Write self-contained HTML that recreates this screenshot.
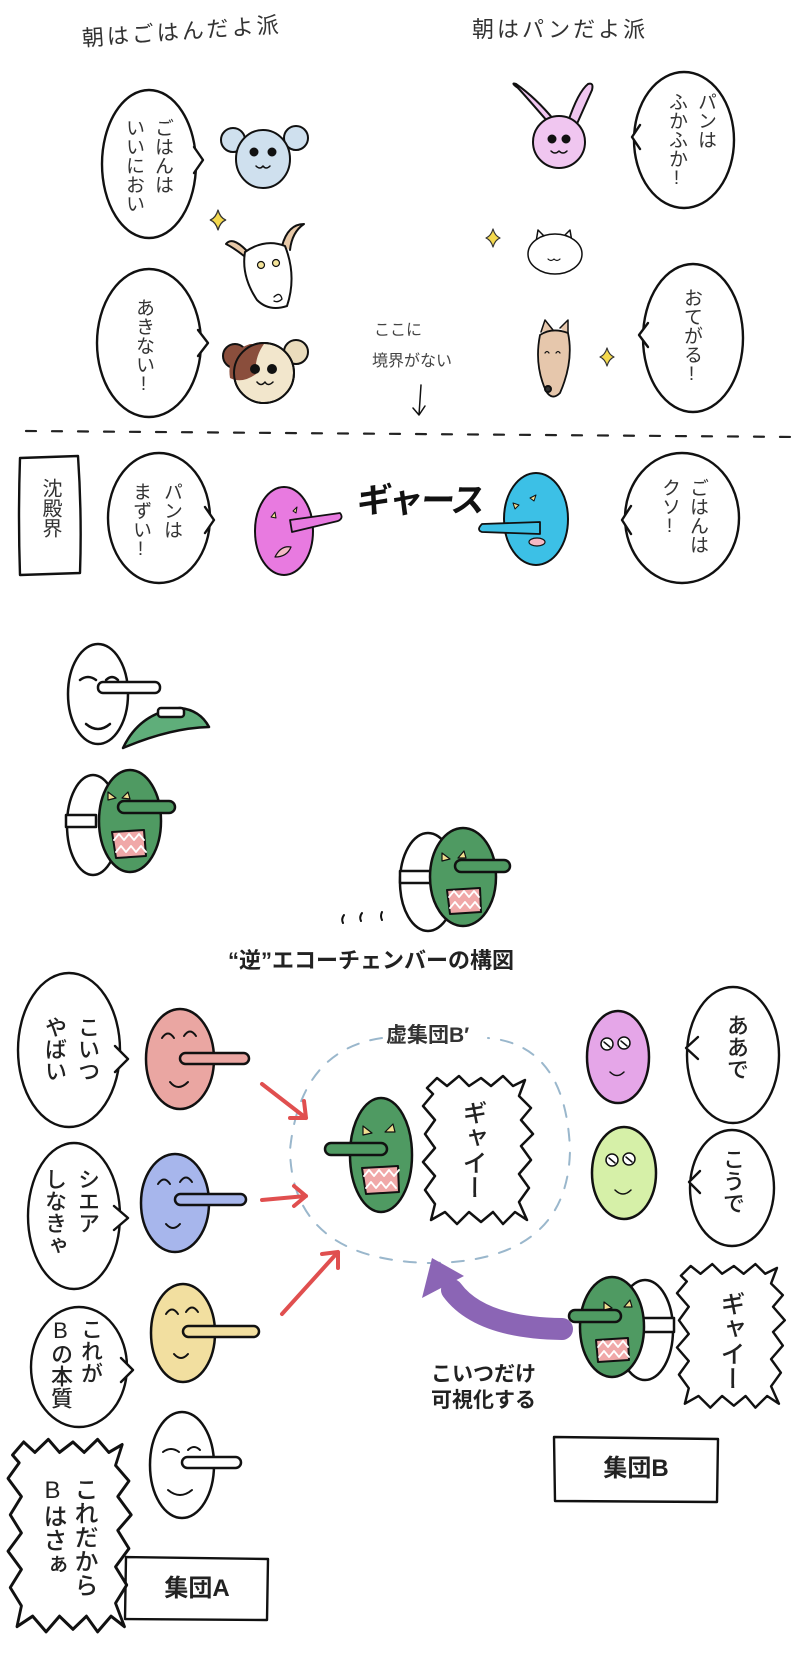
<!DOCTYPE html>
<html><head><meta charset="utf-8">
<style>
html,body{margin:0;padding:0;background:#fff;}
#w{position:relative;width:800px;height:1659px;overflow:hidden;background:#fff;font-family:"Liberation Sans","Noto Sans CJK JP",sans-serif;color:#222;}
svg{position:absolute;left:0;top:0;}
.v{position:absolute;writing-mode:vertical-rl;text-orientation:upright;line-height:1;white-space:nowrap;}
.t{position:absolute;white-space:nowrap;line-height:1;}
.s19{font-size:19px;width:19px;color:#333;}
.s22{font-size:22px;width:22px;color:#222;font-weight:500;}
.s24{font-size:24px;width:24px;color:#222;font-weight:500;}
.b{font-weight:bold;}
</style></head><body><div id="w">
<svg width="800" height="1659" viewBox="0 0 800 1659" stroke-linecap="round" stroke-linejoin="round">
<defs>
<polygon id="spk" points="4,10 14,0 24,8 36,-2 46,8 58,0 68,8 80,-2 90,8 102,2 96,18 108,30 98,42 110,56 98,68 108,82 96,96 106,110 96,124 104,142 92,134 80,146 70,134 58,144 46,134 34,146 22,134 8,142 12,126 2,112 12,98 0,84 12,70 2,56 12,42 0,28 10,16" fill="#fff" stroke="#111" stroke-width="2.5"/>
<symbol id="star" viewBox="-10 -10 20 20"><path d="M0,-9 Q2,-2 7,0 Q2,2 0,9 Q-2,2 -7,0 Q-2,-2 0,-9Z" fill="#f4d94e" stroke="#333" stroke-width="1.2"/></symbol>
</defs>
<g fill="#fff" stroke="#111" stroke-width="2.4">
<ellipse cx="149" cy="164" rx="47" ry="74"/><polygon points="192,146 203,160 192,174" stroke="none"/><polyline points="194,147 203,160 194,173" fill="none"/>
<ellipse cx="149" cy="343" rx="52" ry="74"/><polygon points="196,329 208,343 196,357" stroke="none"/><polyline points="198,330 208,343 198,356" fill="none"/>
<ellipse cx="684" cy="140" rx="50" ry="68"/><polygon points="642,124 632,137 642,150" stroke="none"/><polyline points="640,125 632,137 640,149" fill="none"/>
<ellipse cx="693" cy="338" rx="50" ry="74"/><polygon points="650,322 639,335 650,348" stroke="none"/><polyline points="648,323 639,335 648,347" fill="none"/>
<path d="M20,458 Q18,517 20,575 L80,573 Q82,515 78,456 Z"/>
<ellipse cx="159" cy="518" rx="51" ry="65"/><polygon points="203,506 214,520 203,534" stroke="none"/><polyline points="205,507 214,520 205,533" fill="none"/>
<ellipse cx="682" cy="518" rx="57" ry="65"/><polygon points="633,505 622,520 633,535" stroke="none"/><polyline points="631,506 622,520 631,534" fill="none"/>
<ellipse cx="69" cy="1050" rx="51" ry="77"/><polygon points="114,1045 128,1059 114,1073" stroke="none"/><polyline points="115,1046 128,1059 115,1072" fill="none"/>
<ellipse cx="74" cy="1216" rx="46" ry="73"/><polygon points="113,1205 128,1218 113,1231" stroke="none"/><polyline points="114,1206 128,1218 114,1230" fill="none"/>
<ellipse cx="79" cy="1367" rx="48" ry="60"/><polygon points="120,1357 133,1370 120,1383" stroke="none"/><polyline points="121,1358 133,1370 121,1382" fill="none"/>
<ellipse cx="733" cy="1055" rx="46" ry="68"/><polygon points="699,1036 686,1048 699,1060" stroke="none"/><polyline points="698,1037 686,1048 698,1059" fill="none"/>
<ellipse cx="732" cy="1188" rx="42" ry="58"/><polygon points="701,1170 689,1182 701,1194" stroke="none"/><polyline points="700,1171 689,1182 700,1193" fill="none"/>
<path d="M126,1557 L268,1559 L267,1620 L125,1619 Z"/>
<path d="M554,1437 L718,1439 L717,1502 L555,1501 Z"/>
</g>
<use href="#spk" transform="translate(423,1078)"/>
<use href="#spk" transform="translate(677,1266) scale(0.98,0.97)"/>
<use href="#spk" transform="translate(8,1442) scale(1.12,1.3)"/>
<use href="#star" x="207" y="209" width="22" height="22"/>
<use href="#star" x="483" y="228" width="20" height="20"/>
<use href="#star" x="597" y="347" width="20" height="20"/>
<path d="M26,431 L800,437" stroke="#222" stroke-width="2.2" stroke-dasharray="10 16" fill="none"/>
<g stroke="#111" stroke-width="2">
<circle cx="233" cy="140" r="12" fill="#cfe0ee"/><circle cx="296" cy="138" r="12" fill="#cfe0ee"/>
<ellipse cx="263" cy="159" rx="27" ry="29" fill="#cfe0ee"/>
<circle cx="254" cy="152" r="3.5" fill="#111"/><circle cx="272" cy="152" r="3.5" fill="#111"/>
<path d="M256 166 q4 4 7 0 q3 4 7 0" fill="none" stroke-width="1.5"/>
<path d="M246,250 q-14,-14 -20,-6 q8,4 18,12" fill="#e8c9a8"/><path d="M282,246 q6,-22 22,-22 q-12,8 -14,26" fill="#e8c9a8"/>
<path d="M245,252 q20,-14 40,-6 q12,30 2,60 q-18,6 -30,-6 q-16,-24 -12,-48Z" fill="#fff"/>
<circle cx="261" cy="265" r="3.5" fill="#f4e49a" stroke-width="1.2"/><circle cx="276" cy="263" r="3.5" fill="#f4e49a" stroke-width="1.2"/>
<path d="M274 297 q6 -6 8 2 q-4 4 -8 2" fill="none" stroke-width="1.3"/>
<circle cx="235" cy="356" r="12" fill="#8a4e3c"/><circle cx="296" cy="352" r="12" fill="#eadcbc"/>
<circle cx="264" cy="373" r="30" fill="#f2e6cc"/>
<path d="M264,344 q-10,14 -8,30 q-14,10 -26,4 q-4,-26 20,-34Z" fill="#8a4e3c" stroke="none"/>
<circle cx="264" cy="373" r="30" fill="none"/>
<circle cx="255" cy="369" r="4" fill="#111"/><circle cx="272" cy="369" r="4" fill="#111"/>
<path d="M257 382 q4 5 8 0 q3 5 8 0" fill="none" stroke-width="1.5"/>
<path d="M548,122 q-26,-30 -30,-34 q-8,-6 -2,-4 q20,14 38,36Z" fill="#f0c6f0"/>
<path d="M568,122 q10,-30 20,-38 q6,-2 4,6 q-8,18 -16,36Z" fill="#f0c6f0"/>
<circle cx="559" cy="142" r="26" fill="#f0c6f0"/>
<circle cx="552" cy="139" r="3.5" fill="#111"/><circle cx="566" cy="139" r="3.5" fill="#111"/>
<path d="M551 151 q4 4 8 0 q4 4 8 0" fill="none" stroke-width="1.5"/>
<path d="M536,242 l2,-12 l8,8 M562,238 l8,-8 l2,12" fill="#fff" stroke-width="1.5"/>
<ellipse cx="555" cy="254" rx="27" ry="20" fill="#fff" stroke-width="1.5"/>
<path d="M548 259 q3 3 6 0 q3 3 6 0" fill="none" stroke-width="1.2"/>
<path d="M541,332 l4,-12 l8,10 M560,328 l8,-8 l0,14" fill="#e6c7ac" stroke-width="1.5"/>
<path d="M540,335 q12,-8 28,-2 q6,28 -8,60 q-8,8 -14,-2 q-12,-26 -6,-56Z" fill="#e6c7ac" stroke-width="1.8"/>
<circle cx="548" cy="389" r="3" fill="#333"/>
<path d="M545 353 q2 -3 4 0 M556 353 q2 -3 4 0" fill="none" stroke-width="1.2"/>
<path d="M421,385 L419,415 M413,408 L419,415 L425,406" fill="none" stroke-width="1.5"/>
<ellipse cx="284" cy="531" rx="29" ry="44" fill="#e87ae0"/>
<path d="M290,520 L340,513 Q344,518 338,521 L292,532Z" fill="#e87ae0" stroke-width="1.8"/>
<path d="M271,517 l4,-5 l1,6Z M293,511 l4,-4 l-1,6Z" fill="#f2e090" stroke-width="1"/>
<path d="M275,557 q6,-12 16,-10 q-4,10 -16,10Z" fill="#f4b8c4" stroke-width="1.2"/>
<ellipse cx="536" cy="519" rx="32" ry="46" fill="#3cc0e6"/>
<path d="M540,522 L482,524 Q476,530 482,532 L540,534Z" fill="#3cc0e6" stroke-width="1.8"/>
<path d="M513,503 l6,2 l-4,4Z M530,498 l6,-3 l-2,6Z" fill="#f2e090" stroke-width="1"/>
<ellipse cx="537" cy="542" rx="8" ry="4" fill="#f4b8c4" stroke-width="1.2"/>
</g>
<g stroke="#111" stroke-width="2.5">
<path d="M123,748 Q140,712 180,708 Q200,710 209,727 Q170,728 123,748Z" fill="#5fae7a"/>
<rect x="158" y="708" width="26" height="9" rx="3" fill="#fff"/>
<ellipse cx="98" cy="694" rx="30" ry="50" fill="#fff"/>
<rect x="98" y="682" width="62" height="11" rx="5" fill="#fff"/>
<path d="M80 680 q8 -6 16 0 M106 680 q6 -6 12 0 M86 724 q12 10 24 0" fill="none"/>
<ellipse cx="93" cy="825" rx="26" ry="50" fill="#fff"/>
<rect x="66" y="815" width="30" height="12" fill="#fff"/>
<ellipse cx="130" cy="821" rx="31" ry="51" fill="#4f9a62"/>
<rect x="118" y="801" width="57" height="12" rx="6" fill="#4f9a62"/>
<path d="M108 792 l8 6 l-8 2Z M128 792 l-6 6 l8 1Z" fill="#f2e090" stroke-width="1.2"/>
<path d="M112 832 L144 830 L146 856 L116 858Z" fill="#f0a8a8" stroke-width="2"/>
<path d="M114 840 l5 -6 l5 6 l5 -6 l5 6 l5 -6 l5 6 M116 852 l5 -6 l5 6 l5 -6 l5 6 l5 -6 l5 6" fill="none" stroke="#fff" stroke-width="1.8"/>
<ellipse cx="428" cy="882" rx="28" ry="49" fill="#fff"/>
<rect x="400" y="871" width="32" height="12" fill="#fff"/>
<ellipse cx="463" cy="877" rx="33" ry="49" fill="#4f9a62"/>
<rect x="455" y="860" width="55" height="12" rx="6" fill="#4f9a62"/>
<path d="M442 853 l8 6 l-8 2Z M464 851 l-6 7 l8 0Z" fill="#f2e090" stroke-width="1.2"/>
<path d="M447 890 L480 888 L481 912 L450 914Z" fill="#f0a8a8" stroke-width="2"/>
<path d="M449 897 l5 -6 l5 6 l5 -6 l5 6 l5 -6 l5 6 M450 908 l5 -6 l5 6 l5 -6 l5 6 l5 -6 l5 6" fill="none" stroke="#fff" stroke-width="1.8"/>
<path d="M344 915 q-3 4 -1 8 M362 913 q-3 4 -1 8 M382 912 q-2 4 0 8" fill="none" stroke-width="2"/>
</g>
<path d="M382,1038 Q300,1050 290,1150 Q292,1260 430,1263 Q568,1262 570,1150 Q566,1045 488,1038" fill="none" stroke="#9ab7cc" stroke-width="2" stroke-dasharray="12 12"/>
<g stroke="#e04f4f" stroke-width="4" fill="none">
<path d="M262,1084 L306,1118 M290,1118 L306,1118 L304,1101"/>
<path d="M262,1200 L306,1196 M294,1186 L306,1196 L294,1206"/>
<path d="M282,1314 L338,1252 M322,1254 L338,1252 L338,1268"/>
</g>
<path d="M562,1329 Q480,1328 452,1290" fill="none" stroke="#8b65b5" stroke-width="22"/>
<polygon points="422,1298 464,1276 432,1258" fill="#8b65b5"/>
<g stroke="#111" stroke-width="2.5">
<ellipse cx="180" cy="1059" rx="34" ry="50" fill="#eaa6a2"/>
<rect x="180" y="1053" width="69" height="11" rx="5.5" fill="#eaa6a2"/>
<path d="M162 1038 q6 -9 12 0 M184 1036 q6 -9 12 0 M170 1082 q8 10 18 0" fill="none" stroke-width="2"/>
<ellipse cx="175" cy="1203" rx="34" ry="49" fill="#a7b6ec"/>
<rect x="175" y="1194" width="71" height="11" rx="5.5" fill="#a7b6ec"/>
<path d="M158 1184 q6 -9 12 0 M180 1182 q6 -9 12 0 M166 1224 q7 8 14 0" fill="none" stroke-width="2"/>
<ellipse cx="183" cy="1333" rx="32" ry="49" fill="#f2dfa0"/>
<rect x="183" y="1326" width="76" height="11" rx="5.5" fill="#f2dfa0"/>
<path d="M166 1314 q6 -9 12 0 M186 1312 q6 -9 12 0 M174 1354 q7 8 14 0" fill="none" stroke-width="2"/>
<ellipse cx="182" cy="1465" rx="32" ry="53" fill="#fff"/>
<rect x="182" y="1457" width="59" height="11" rx="5.5" fill="#fff"/>
<path d="M163 1452 q8 -6 16 0 M188 1450 q6 -6 12 0 M168 1490 q12 10 24 0" fill="none" stroke-width="2"/>
<ellipse cx="381" cy="1155" rx="31" ry="57" fill="#4f9a62"/>
<rect x="325" y="1143" width="62" height="12" rx="6" fill="#4f9a62"/>
<path d="M363 1126 l9 7 l-9 2Z M393 1124 l-8 8 l10 0Z" fill="#f2e090" stroke-width="1.2"/>
<path d="M362 1168 L398 1166 L399 1192 L366 1194Z" fill="#f0a8a8" stroke-width="2"/>
<path d="M364 1176 l5 -6 l5 6 l5 -6 l5 6 l5 -6 l5 6 l5 -6 M366 1188 l5 -6 l5 6 l5 -6 l5 6 l5 -6 l5 6" fill="none" stroke="#fff" stroke-width="1.8"/>
<ellipse cx="618" cy="1057" rx="31" ry="46" fill="#e5a6e8"/>
<circle cx="607" cy="1044" r="6" fill="#fff" stroke-width="1.5"/><circle cx="624" cy="1043" r="6" fill="#fff" stroke-width="1.5"/>
<path d="M604 1042 l6 5 M621 1041 l6 5 M610 1072 q7 7 14 0" fill="none" stroke-width="1.5"/>
<ellipse cx="624" cy="1173" rx="32" ry="46" fill="#d6f0a8"/>
<circle cx="612" cy="1160" r="6" fill="#fff" stroke-width="1.5"/><circle cx="629" cy="1159" r="6" fill="#fff" stroke-width="1.5"/>
<path d="M609 1158 l6 5 M626 1157 l6 5 M615 1190 q8 8 16 0" fill="none" stroke-width="1.5"/>
<ellipse cx="645" cy="1330" rx="28" ry="50" fill="#fff"/>
<rect x="640" y="1318" width="34" height="14" fill="#fff"/>
<ellipse cx="612" cy="1327" rx="32" ry="50" fill="#4f9a62"/>
<rect x="569" y="1310" width="52" height="12" rx="6" fill="#4f9a62"/>
<path d="M604 1302 l8 6 l-8 2Z M630 1300 l-6 7 l8 0Z" fill="#f2e090" stroke-width="1.2"/>
<path d="M596 1340 L628 1338 L629 1360 L598 1362Z" fill="#f0a8a8" stroke-width="2"/>
<path d="M598 1347 l5 -6 l5 6 l5 -6 l5 6 l5 -6 l5 6 M599 1357 l5 -6 l5 6 l5 -6 l5 6 l5 -6 l5 6" fill="none" stroke="#fff" stroke-width="1.8"/>
</g>
</svg>

<div class="t" style="left:82px;top:28px;font-size:22px;color:#333;transform:rotate(-4deg);transform-origin:left center;letter-spacing:3px;">朝はごはんだよ派</div>
<div class="t" style="left:472px;top:19px;font-size:22px;color:#333;letter-spacing:3px;">朝はパンだよ派</div>

<div class="v s19" style="left:153px;top:118px;">ごはんは</div>
<div class="v s19" style="left:124px;top:118px;">いいにおい</div>
<div class="v s19" style="left:134px;top:298px;">あきない!</div>
<div class="v s19" style="left:696px;top:92px;">パンは</div>
<div class="v s19" style="left:667px;top:92px;">ふかふか!</div>
<div class="v s19" style="left:682px;top:288px;">おてがる!</div>
<div class="t" style="left:374px;top:323px;font-size:16px;color:#444;">ここに</div>
<div class="t" style="left:372px;top:354px;font-size:16px;color:#444;">境界がない</div>

<div class="v s19" style="left:40px;top:478px;font-size:20px;width:20px;">沈殿界</div>
<div class="v s19" style="left:162px;top:482px;">パンは</div>
<div class="v s19" style="left:131px;top:482px;">まずい!</div>
<div class="t" style="left:357px;top:484px;font-size:34px;font-weight:bold;color:#111;letter-spacing:-2px;transform:skewX(-8deg);">ギャース</div>
<div class="v s19" style="left:688px;top:478px;">ごはんは</div>
<div class="v s19" style="left:660px;top:478px;">クソ!</div>

<div class="t b" style="left:228px;top:950px;font-size:22px;color:#222;">“逆”エコーチェンバーの構図</div>
<div class="t b" style="left:386px;top:1025px;font-size:21px;color:#333;">虚集団B′</div>

<div class="v s22" style="left:76px;top:1016px;">こいつ</div>
<div class="v s22" style="left:43px;top:1016px;">やばい</div>
<div class="v s22" style="left:76px;top:1168px;">シエア</div>
<div class="v s22" style="left:43px;top:1168px;">しなきゃ</div>
<div class="v s22" style="left:79px;top:1318px;">これが</div>
<div class="v s22" style="left:49px;top:1318px;">Bの本質</div>
<div class="v s24" style="left:71px;top:1477px;">これだから</div>
<div class="v s24" style="left:40px;top:1477px;">Bはさぁ</div>
<div class="t b" style="left:126px;top:1577px;width:142px;text-align:center;font-size:24px;">集団A</div>

<div class="v s24" style="left:460px;top:1100px;font-size:25px;width:25px;">ギャイー</div>
<div class="v s22" style="left:725px;top:1014px;">ああで</div>
<div class="v s22" style="left:721px;top:1148px;">こうで</div>
<div class="v s24" style="left:718px;top:1291px;font-size:25px;width:25px;">ギャイー</div>
<div class="t b" style="left:431px;top:1362px;font-size:21px;line-height:26px;">こいつだけ<br>可視化する</div>
<div class="t b" style="left:554px;top:1457px;width:164px;text-align:center;font-size:24px;">集団B</div>
</div></body></html>
